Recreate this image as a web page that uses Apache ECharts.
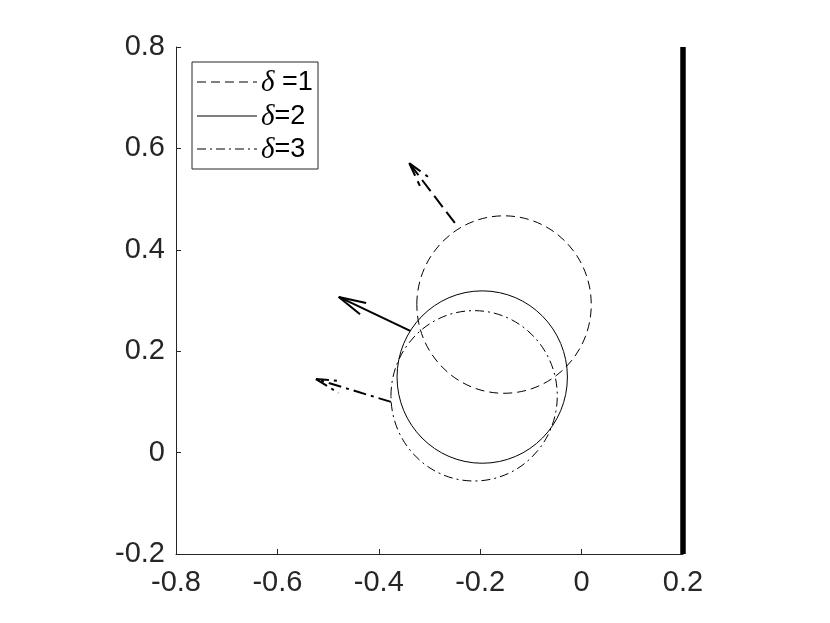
<!DOCTYPE html>
<html>
<head>
<meta charset="utf-8">
<script src="https://cdn.jsdelivr.net/npm/echarts@6/dist/echarts.min.js"></script>
<style>
html,body{margin:0;padding:0;background:#fff;}
#chart{width:830px;height:623px;}
</style>
</head>
<body>
<div id="chart"></div>
<script>
// Axis ranges / ticks
const xRange = [-0.8, 0.2];
const yRange = [-0.2, 0.8];
const tickStep = 0.2;

// Legend labels (delta values)
const deltaLabels = ['δ =1', 'δ=2', 'δ=3'];

// Circles: [centerX, centerY, radiusX, radiusY]
const circleDelta1 = [-0.153, 0.292, 0.172, 0.175];
const circleDelta2 = [-0.196, 0.149, 0.168, 0.170];
const circleDelta3 = [-0.212, 0.112, 0.164, 0.168];

// Arrows: [tail, tip, barbA, barbB]
const arrowDelta1 = [[-0.250, 0.453], [-0.340, 0.571], [-0.319, 0.526], [-0.303, 0.544]];
const arrowDelta2 = [[-0.338, 0.240], [-0.479, 0.307], [-0.425, 0.295], [-0.437, 0.273]];
const arrowDelta3 = [[-0.376, 0.100], [-0.524, 0.145], [-0.473, 0.141], [-0.480, 0.118]];

// Wall at x = 0.2
const wallX = 0.2;
const wallYs = [-0.2, 0.8];

const dashCircle = [9, 5];
const dashDotCircle = [9, 4, 2, 4];
const dashArrow = [14, 6];
const dashDotArrow = [13, 5, 3, 5];

function circleSeries(vals, dash) {
  return {
    type: 'custom',
    coordinateSystem: 'cartesian2d',
    clip: false,
    silent: true,
    data: [vals],
    encode: { x: 0, y: 1 },
    renderItem: function (params, api) {
      const c = api.coord([api.value(0), api.value(1)]);
      const s = api.size([api.value(2), api.value(3)]);
      return {
        type: 'ellipse',
        shape: { cx: c[0], cy: c[1], rx: s[0], ry: s[1] },
        style: { fill: null, stroke: '#000', lineWidth: 1, lineDash: dash }
      };
    }
  };
}

function arrowSeries(pts, dash) {
  return {
    type: 'lines',
    coordinateSystem: 'cartesian2d',
    silent: true,
    lineStyle: { color: '#000', width: 2, type: dash, opacity: 1 },
    data: [
      { coords: [pts[0], pts[1]] },
      { coords: [pts[1], pts[2]] },
      { coords: [pts[1], pts[3]] }
    ]
  };
}

const axisColor = '#262626';
const labelFont = { fontFamily: 'Liberation Sans', fontSize: 29, color: axisColor };
const fmt = v => String(+v.toFixed(1));

const legendRows = [83, 117, 150];
const legendDashes = [dashCircle, null, dashDotCircle];
const legendGraphics = [{
  type: 'rect',
  shape: { x: 192, y: 62, width: 126, height: 107 },
  style: { fill: '#fff', stroke: axisColor, lineWidth: 1 },
  z: 10
}];
deltaLabels.forEach((lab, i) => {
  legendGraphics.push({
    type: 'line',
    shape: { x1: 197, y1: legendRows[i] - 1, x2: 257, y2: legendRows[i] - 1 },
    style: { stroke: '#000', lineWidth: 1, lineDash: legendDashes[i] },
    z: 11
  });
  legendGraphics.push({
    type: 'text',
    x: 261, y: legendRows[i],
    style: {
      text: '{d|δ}' + lab.slice(1),
      fontFamily: 'Liberation Sans', fontSize: 27, fill: '#000',
      verticalAlign: 'middle', align: 'left',
      rich: { d: { fontFamily: 'Liberation Serif', fontStyle: 'italic', fontSize: 29, fill: '#000' } }
    },
    z: 11
  });
});

const chart = echarts.init(document.getElementById('chart'), null, { renderer: 'canvas' });
chart.setOption({
  backgroundColor: '#fff',
  animation: false,
  grid: { left: 176, top: 47, width: 507, height: 507 },
  xAxis: {
    type: 'value', min: xRange[0], max: xRange[1], interval: tickStep,
    axisLine: { show: true, onZero: false, lineStyle: { color: axisColor, width: 1 } },
    axisTick: { show: true, inside: true, length: 5, lineStyle: { color: axisColor } },
    splitLine: { show: false },
    axisLabel: Object.assign({ margin: 14, formatter: fmt }, labelFont)
  },
  yAxis: {
    type: 'value', min: yRange[0], max: yRange[1], interval: tickStep,
    axisLine: { show: true, onZero: false, lineStyle: { color: axisColor, width: 1 } },
    axisTick: { show: true, inside: true, length: 5, lineStyle: { color: axisColor } },
    splitLine: { show: false },
    axisLabel: Object.assign({ margin: 11, formatter: fmt }, labelFont)
  },
  series: [
    circleSeries(circleDelta1, dashCircle),
    circleSeries(circleDelta2, null),
    circleSeries(circleDelta3, dashDotCircle),
    arrowSeries(arrowDelta1, dashArrow),
    arrowSeries(arrowDelta2, 'solid'),
    arrowSeries(arrowDelta3, dashDotArrow),
    {
      type: 'line', clip: false, symbol: 'none', silent: true,
      data: [[wallX, wallYs[0]], [wallX, wallYs[1]]],
      lineStyle: { color: '#000', width: 5.5, cap: 'butt' },
      z: 5
    }
  ],
  graphic: legendGraphics
});
</script>
</body>
</html>
